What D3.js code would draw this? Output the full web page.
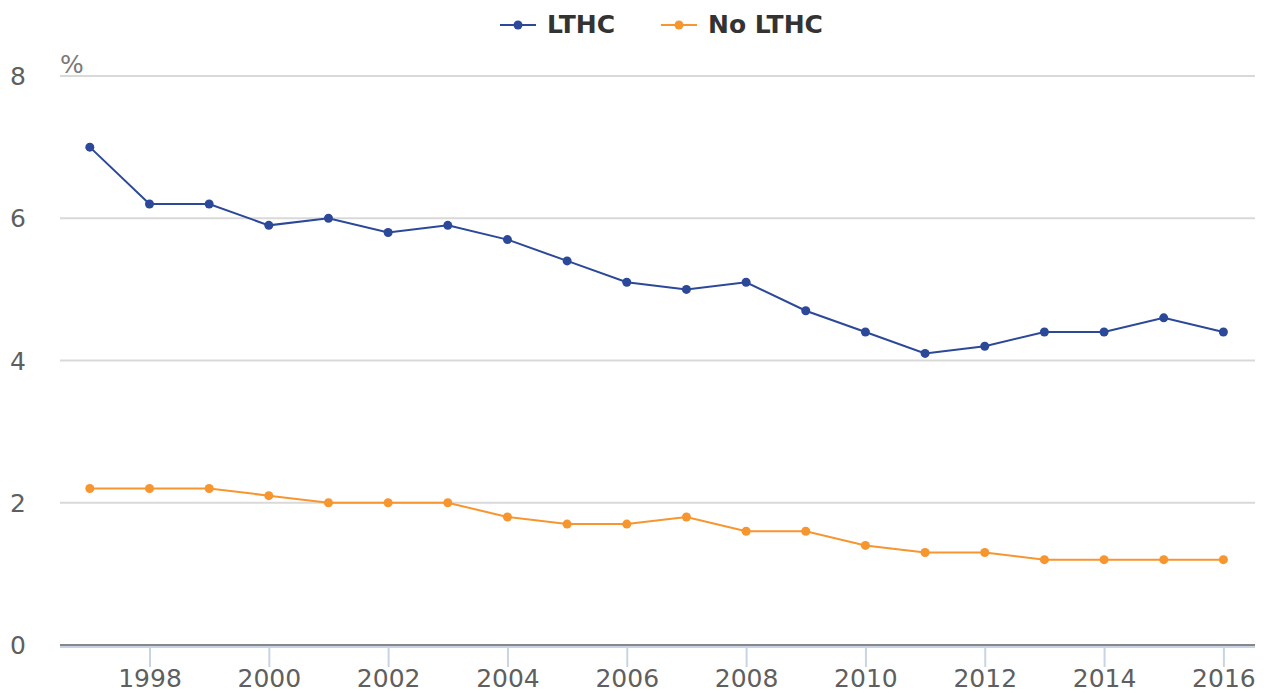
<!DOCTYPE html>
<html>
<head>
<meta charset="utf-8">
<script src="https://cdn.jsdelivr.net/npm/d3@7"></script>
<style>
    body { margin: 0; background: #fff; }
    svg { display: block; font-family: "DejaVu Sans", sans-serif; }
</style>
</head>
<body>
<div id="chart"></div>
<script>
var years = [1997, 1998, 1999, 2000, 2001, 2002, 2003, 2004, 2005, 2006,
             2007, 2008, 2009, 2010, 2011, 2012, 2013, 2014, 2015, 2016];
var lthcValues = [7.0, 6.2, 6.2, 5.9, 6.0, 5.8, 5.9, 5.7, 5.4, 5.1,
                  5.0, 5.1, 4.7, 4.4, 4.1, 4.2, 4.4, 4.4, 4.6, 4.4];
var noLthcValues = [2.2, 2.2, 2.2, 2.1, 2.0, 2.0, 2.0, 1.8, 1.7, 1.7,
                    1.8, 1.6, 1.6, 1.4, 1.3, 1.3, 1.2, 1.2, 1.2, 1.2];
var seriesNames = ["LTHC", "No LTHC"];
var seriesColors = ["#2b4899", "#f7952f"];
var yTicks = [0, 2, 4, 6, 8];
var xTicks = [1998, 2000, 2002, 2004, 2006, 2008, 2010, 2012, 2014, 2016];

var width = 1268, height = 693;
var margin = { top: 76, right: 13, bottom: 48, left: 60 };

var svg = d3.select("#chart").append("svg")
    .attr("width", width)
    .attr("height", height);

// x runs a little past the first and last year
var x = d3.scaleLinear()
    .domain([1996.5, 2016.53])
    .range([margin.left, width - margin.right]);

var y = d3.scaleLinear()
    .domain([0, 8])
    .range([height - margin.bottom, margin.top]);

//gridlines
svg.append("g").selectAll("line")
    .data(yTicks.filter(function(d){ return d > 0; }))
    .enter().append("line")
    .attr("x1", margin.left)
    .attr("x2", width - margin.right)
    .attr("y1", function(d){ return y(d); })
    .attr("y2", function(d){ return y(d); })
    .attr("stroke", "#d9d9d9")
    .attr("stroke-width", 2);

//y labels
svg.append("g").selectAll("text")
    .data(yTicks)
    .enter().append("text")
    .attr("x", 18)
    .attr("y", function(d){ return y(d) + 9; })
    .attr("text-anchor", "middle")
    .attr("font-size", 25)
    .attr("fill", "#5f5f5f")
    .text(function(d){ return d; });

svg.append("text")
    .attr("x", 60)
    .attr("y", 73)
    .attr("font-size", 25)
    .attr("fill", "#7a7a7a")
    .text("%");

//x axis
var xAxis = d3.axisBottom(x)
    .tickValues(xTicks)
    .tickFormat(d3.format("d"))
    .tickSize(20)
    .tickPadding(2);

var gx = svg.append("g")
    .attr("transform", "translate(0," + (y(0) + 2) + ")")
    .call(xAxis);
gx.select(".domain").remove();
gx.selectAll(".tick line").attr("stroke", "#c8d4e3").attr("stroke-width", 2);
gx.selectAll(".tick text")
    .attr("font-family", "DejaVu Sans, sans-serif")
    .attr("font-size", 25)
    .attr("fill", "#5f5f5f");

svg.append("line")
    .attr("x1", margin.left).attr("x2", width - margin.right)
    .attr("y1", y(0) + 2).attr("y2", y(0) + 2)
    .attr("stroke", "#c8d4e3").attr("stroke-width", 2);
svg.append("line")
    .attr("x1", margin.left).attr("x2", width - margin.right)
    .attr("y1", y(0)).attr("y2", y(0))
    .attr("stroke", "#888").attr("stroke-width", 2);

//series
var allSeries = [lthcValues, noLthcValues];
var line = d3.line()
    .x(function(d, i){ return x(years[i]); })
    .y(function(d){ return y(d); });

allSeries.forEach(function(values, k){
    svg.append("path")
        .datum(values)
        .attr("d", line)
        .attr("fill", "none")
        .attr("stroke", seriesColors[k])
        .attr("stroke-width", 2);
    svg.append("g").selectAll("circle")
        .data(values)
        .enter().append("circle")
        .attr("cx", function(d, i){ return x(years[i]); })
        .attr("cy", function(d){ return y(d); })
        .attr("r", 4.5)
        .attr("fill", seriesColors[k]);
});

//legend
var legendX = [500, 661];
seriesNames.forEach(function(name, k){
    var g = svg.append("g").attr("transform", "translate(" + legendX[k] + ",25)");
    g.append("line").attr("x1", 0).attr("x2", 36).attr("y1", 0).attr("y2", 0)
        .attr("stroke", seriesColors[k]).attr("stroke-width", 2);
    g.append("circle").attr("cx", 18).attr("cy", 0).attr("r", 4.5)
        .attr("fill", seriesColors[k]);
    g.append("text").attr("x", 47).attr("y", 8)
        .attr("font-size", 25).attr("font-weight", "bold")
        .attr("fill", "#333")
        .text(name);
});
</script>
</body>
</html>
